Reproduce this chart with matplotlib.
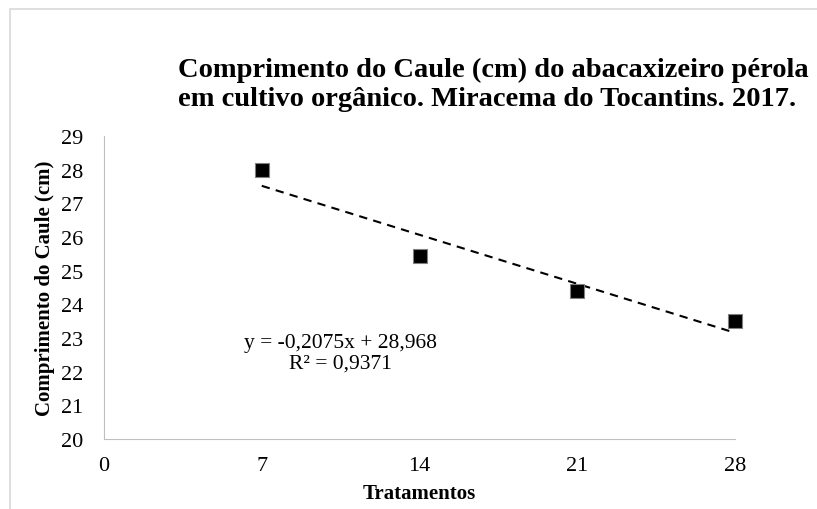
#!/usr/bin/env python3
import matplotlib
matplotlib.use('Agg')
import matplotlib.pyplot as plt
import numpy as np
from matplotlib.patches import Rectangle

tratamentos = [7, 14, 21, 28]
comprimento = [28.0, 25.45, 24.4, 23.5]
xticks = [0, 7, 14, 21, 28]
yticks = list(range(20, 30))
titulo = 'Comprimento do Caule (cm) do abacaxizeiro pérola\nem cultivo orgânico. Miracema do Tocantins. 2017.'
equacao = 'y = -0,2075x + 28,968'
r2 = 'R² = 0,9371'

plt.rcParams['font.family'] = ['Liberation Serif', 'DejaVu Serif']

fig = plt.figure(figsize=(8.17, 5.10), dpi=100)
fig.patches.append(Rectangle((10 / 817, -0.1), 1.2, 1.1 - 10 / 510, transform=fig.transFigure,
                             fill=False, edgecolor='#d9d9d9', linewidth=1.2))

ax = fig.add_axes([104 / 817, 1 - 440 / 510, 631 / 817, 303 / 510])
ax.set_xlim(0, 28)
ax.set_ylim(20, 29)
ax.set_xticks(xticks)
ax.set_yticks(yticks)
ax.tick_params(length=0, labelsize=16, pad=12)
ax.tick_params(axis='y', pad=15)
for s in ['top', 'right']:
  ax.spines[s].set_visible(False)
for s in ['left', 'bottom']:
  ax.spines[s].set_color('#bfbfbf')

# linear trend
coef = np.polyfit(tratamentos, comprimento, 1)
xs = np.array([tratamentos[0], tratamentos[-1]])
ax.plot(xs, np.polyval(coef, xs), linestyle=(0, (4, 3)), color='black', linewidth=1.5)

ax.scatter(tratamentos, comprimento, marker='s', s=110, color='black', edgecolors='#808080',
           linewidths=0.8, zorder=3, clip_on=False)

ax.text(10.5, 22.88, equacao, ha='center', va='center', fontsize=15.5)
ax.text(10.5, 22.25, r2, ha='center', va='center', fontsize=15.5)

ax.set_xlabel('Tratamentos', fontsize=15, fontweight='bold', labelpad=6)
ax.set_ylabel('Comprimento do Caule (cm)', fontsize=15, fontweight='bold', labelpad=4)

fig.text(178 / 817, 1 - 58 / 510, titulo, ha='left', va='top', fontsize=20.5,
         fontweight='bold', linespacing=1.2)

fig.savefig('out.png', dpi=100)
